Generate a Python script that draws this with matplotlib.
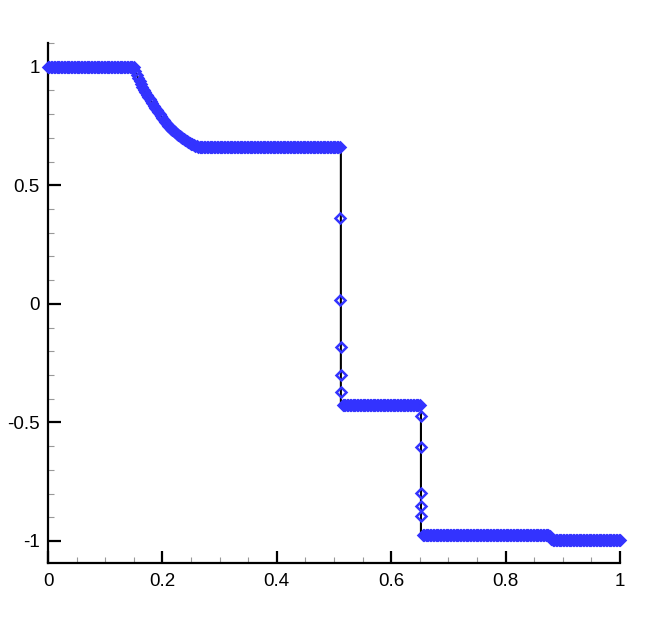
import numpy as np
import matplotlib
matplotlib.use("Agg")
import matplotlib.pyplot as plt
from matplotlib.ticker import MultipleLocator, FuncFormatter

# ---- data ----
dx = 0.0025
# plateau segments: (x_start, x_end, level)
plateaus = [
    (0.000, 0.1475, 1.000),
    (0.2625, 0.510, 0.662),
    (0.515, 0.650, -0.426),
    (0.655, 0.875, -0.975),
    (0.885, 1.000, -0.998),
]
# rarefaction fan samples
rare_x = [0.1500, 0.1525, 0.1550, 0.1575, 0.1600, 0.1625, 0.1650, 0.1675, 0.1700,
          0.1725, 0.1750, 0.1775, 0.1800, 0.1825, 0.1850, 0.1875, 0.1900, 0.1925,
          0.1950, 0.1975, 0.2000, 0.2025, 0.2050, 0.2075, 0.2100, 0.2125, 0.2150,
          0.2175, 0.2200, 0.2225, 0.2250, 0.2275, 0.2300, 0.2325, 0.2350, 0.2375,
          0.2400, 0.2425, 0.2450, 0.2475, 0.2500, 0.2525, 0.2550, 0.2575, 0.2600]
rare_y = [1.000, 0.983, 0.967, 0.952, 0.938, 0.925, 0.913, 0.902, 0.892,
          0.882, 0.872, 0.863, 0.854, 0.845, 0.836, 0.827, 0.818, 0.809,
          0.800, 0.791, 0.783, 0.775, 0.767, 0.759, 0.752, 0.745, 0.739,
          0.733, 0.728, 0.723, 0.718, 0.713, 0.708, 0.703, 0.699, 0.694,
          0.690, 0.686, 0.683, 0.679, 0.676, 0.673, 0.670, 0.667, 0.665]
# points inside the shocks
shock1_x = [0.511, 0.511, 0.5115, 0.512, 0.5125]
shock1_y = [0.362, 0.017, -0.183, -0.302, -0.373]
shock2_x = [0.652, 0.652, 0.652, 0.6525, 0.6525]
shock2_y = [-0.473, -0.602, -0.796, -0.852, -0.894]
step_x = [0.8775, 0.880, 0.8825]
step_y = [-0.980, -0.990, -0.996]

# exact solution knots
exact_x = [0.0, 0.150] + rare_x[1:] + [0.265, 0.512, 0.512, 0.652, 0.652, 0.878, 0.882, 1.0]
exact_y = [1.0, 1.000] + rare_y[1:] + [0.662, 0.662, -0.426, -0.426, -0.975, -0.975, -0.998, -0.998]

# ---- assemble numerical points ----
num_x, num_y = [], []
def add_plateau(a, b, v):
    xs = np.arange(a, b + 1e-9, dx)
    num_x.extend(xs)
    num_y.extend([v] * len(xs))

add_plateau(*plateaus[0])
num_x.extend(rare_x); num_y.extend(rare_y)
add_plateau(*plateaus[1])
num_x.extend(shock1_x); num_y.extend(shock1_y)
add_plateau(*plateaus[2])
num_x.extend(shock2_x); num_y.extend(shock2_y)
add_plateau(*plateaus[3])
num_x.extend(step_x); num_y.extend(step_y)
add_plateau(*plateaus[4])

fig = plt.figure(figsize=(6.48, 6.40), dpi=100)
ax = fig.add_axes([48/648, 1-563/640, (620-48)/648, (563-43)/640])

ax.plot(exact_x, exact_y, color='black', lw=1.5, zorder=2)
ax.plot(num_x, num_y, linestyle='none', marker='D', markersize=5.5,
        markerfacecolor='none', markeredgecolor='#3333ff', markeredgewidth=1.8,
        zorder=3, clip_on=False)

ax.set_xlim(0, 1)
ax.set_ylim(-1.093, 1.10)

for s in ['top', 'right']:
    ax.spines[s].set_visible(False)
for s in ['left', 'bottom']:
    ax.spines[s].set_linewidth(1.6)

ax.xaxis.set_major_locator(MultipleLocator(0.2))
ax.xaxis.set_minor_locator(MultipleLocator(0.05))
ax.yaxis.set_major_locator(MultipleLocator(0.5))
ax.yaxis.set_minor_locator(MultipleLocator(0.1))

fmt = FuncFormatter(lambda v, p: ('%g' % round(v, 6)))
ax.xaxis.set_major_formatter(fmt)
ax.yaxis.set_major_formatter(fmt)

ax.tick_params(which='major', direction='in', length=9, width=1.6, labelsize=13.5)
ax.tick_params(axis='y', which='major', pad=6)
ax.tick_params(axis='x', which='major', pad=7)
ax.tick_params(which='minor', direction='in', length=4.5, width=0.8, color='#999999')
ax.tick_params(axis='x', which='both', top=False)
ax.tick_params(axis='y', which='both', right=False)
for lab in ax.get_xticklabels() + ax.get_yticklabels():
    lab.set_fontfamily('Liberation Sans')

fig.savefig('out.png', dpi=100)
